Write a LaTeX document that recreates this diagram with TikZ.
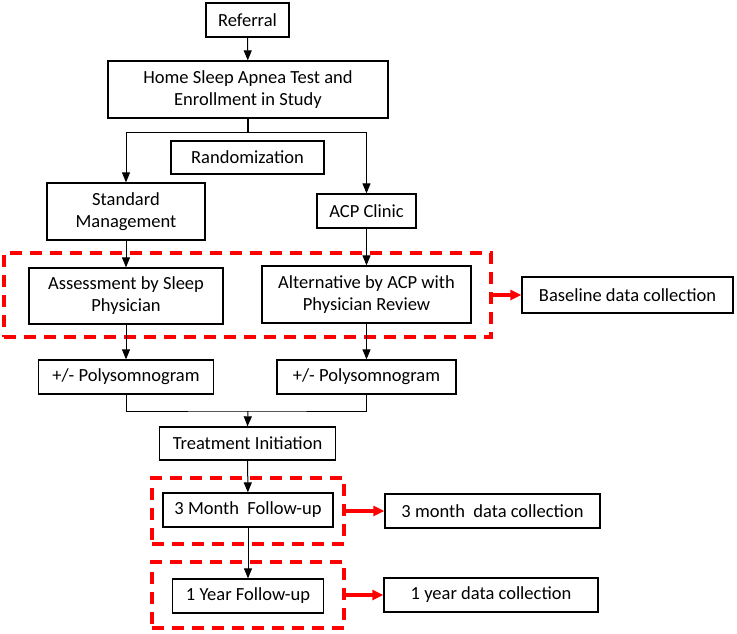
\documentclass[tikz,border=0pt]{standalone}
\usepackage{fontspec}
\setmainfont{Carlito}
\usepackage{xcolor}
\usetikzlibrary{arrows.meta}

\begin{document}
\begin{tikzpicture}[
    x=1pt, y=-1pt,
    font=\fontsize{18.5}{22}\selectfont,
    box/.style={rectangle, draw, line width=1.3pt, align=center, inner sep=0pt},
    zone/.style={rectangle, draw=red, line width=3.5pt, dash pattern=on 12pt off 8pt, inner sep=0pt},
    arr/.style={-{Triangle[length=10pt,width=8pt]}, line width=1pt},
    redarr/.style={-{Triangle[length=11pt,width=10pt]}, draw=red, fill=red, line width=3.5pt}
]
\useasboundingbox (0,0) rectangle (737,633);

% dashed grouping zones
\node [zone, minimum width=487pt, minimum height=84pt] (zone1) at (247.5,295) {};
\node [zone, minimum width=192pt, minimum height=66pt] (zone2) at (248,511) {};
\node [zone, minimum width=192pt, minimum height=66pt] (zone3) at (248,595) {};

% flow boxes
\node [box, minimum width=83pt, minimum height=34pt] (ref) at (247.5,20) {Referral};
\node [box, minimum width=280pt, minimum height=57pt] (hsat) at (248,89.5) {Home Sleep Apnea Test and\\Enrollment in Study};
\node [box, minimum width=153pt, minimum height=33pt] (rand) at (247.5,157.5) {Randomization};
\node [box, minimum width=158pt, minimum height=57pt] (std) at (126,211.5) {Standard\\Management};
\node [box, minimum width=99pt, minimum height=34pt] (acp) at (366.5,211) {ACP Clinic};
\node [box, minimum width=194pt, minimum height=56pt] (assess) at (126,296) {Assessment by Sleep\\Physician};
\node [box, minimum width=209pt, minimum height=57pt] (alt) at (366.5,294.5) {Alternative by ACP with\\Physician Review};
\node [box, minimum width=211pt, minimum height=36pt] (base) at (627.5,295) {Baseline data collection};
\node [box, minimum width=175pt, minimum height=34pt] (polyL) at (126,377) {+/- Polysomnogram};
\node [box, minimum width=179pt, minimum height=34pt] (polyR) at (366.5,377) {+/- Polysomnogram};
\node [box, minimum width=176pt, minimum height=33pt] (treat) at (247.5,443.5) {Treatment Initiation};
\node [box, minimum width=170pt, minimum height=34pt] (m3) at (248,510) {3 Month\ \ Follow-up};
\node [box, minimum width=215pt, minimum height=34pt] (m3data) at (492.5,511) {3 month\ \ data collection};
\node [box, minimum width=151pt, minimum height=34pt] (y1) at (248,596) {1 Year Follow-up};
\node [box, minimum width=214pt, minimum height=34pt] (y1data) at (491,595) {1 year data collection};

\coordinate (split) at (248,132);
\coordinate (join) at (248,411);

% connectors
\draw [arr] (ref) -- (hsat);
\draw [line width=2.5pt] (hsat.south) -- (split);
\draw [arr] (split) -| (std.north);
\draw [arr] (split) -| (acp.north);
\draw [arr] (std) -- (assess);
\draw [arr] (acp) -- (alt);
\draw [arr] (assess) -- (polyL);
\draw [arr] (alt) -- (polyR);
\draw [line width=1pt] (polyL.south) |- (join) -| (polyR.south);
\draw [arr] (join) -- (treat.north);
\draw [arr] (treat) -- (m3);
\draw [arr] (m3) -- (y1);

% data collection links
\draw [redarr] (zone1.east) -- (base.west);
\draw [redarr] (zone2.east) -- (m3data.west);
\draw [redarr] (zone3.east) -- (y1data.west);

\end{tikzpicture}
\end{document}
